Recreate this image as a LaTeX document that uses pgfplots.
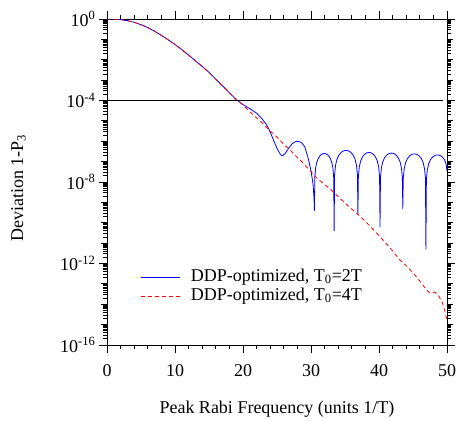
\documentclass[border=0pt]{standalone}
\usepackage{fontspec}
\setmainfont{Liberation Serif}
\usepackage{pgfplots}
\pgfplotsset{compat=1.18}
\definecolor{ddpblue}{RGB}{0,0,255}
\definecolor{ddpred}{RGB}{255,0,0}

% minor log ticks 2..9 in every decade
\def\yminor{}
\pgfplotsforeachungrouped \e in {-16,...,-1}{%
  \pgfplotsforeachungrouped \m in {2,...,9}{%
    \edef\yminor{\yminor\m e\e,}}}
\edef\yminor{\yminor 1}

\begin{document}
\begin{tikzpicture}[font=\fontsize{18}{21}\selectfont]
\begin{axis}[
  scale only axis,
  width=340pt, height=326pt,
  xmin=0, xmax=50,
  ymode=log, ymin=1e-16, ymax=1,
  axis line style={line width=0.8pt},
  every tick/.style={black, line width=0.8pt},
  tick align=outside,
  major tick length=8pt, minor tick length=4pt,
  xtick={0,10,...,50}, minor x tick num=4,
  xticklabel style={yshift=-8pt},
  ytick={1e-16,1e-12,1e-8,1e-4,1},
  yticklabels={10\textsuperscript{-16},10\textsuperscript{-12},10\textsuperscript{-8},10\textsuperscript{-4},10\textsuperscript{0}},
  minor ytick/.expanded={\yminor},
  extra y ticks={1e-15,1e-14,1e-13,1e-11,1e-10,1e-9,1e-7,1e-6,1e-5,1e-3,1e-2,1e-1},
  extra y tick labels={},
  extra y tick style={major tick length=6pt},
  /pgf/number format/assume math mode=true,
  xlabel={Peak Rabi Frequency (units 1/T)},
  ylabel={Deviation 1-P\textsubscript{3}},
  xlabel style={at={(axis description cs:0.5,-0.2086)}, anchor=base},
  ylabel style={at={(axis description cs:-0.247,0.482)}, anchor=base},
  legend style={draw=none, fill=none, inner sep=0pt,
    at={(axis description cs:0.097,0.236)}, anchor=north west,
    nodes={inner sep=0pt, text height=13pt, text depth=6pt},
    /tikz/every odd column/.append style={column sep=11pt}},
  legend cell align=left,
  legend image code/.code={\draw[#1] (0pt,0pt) -- (39pt,0pt);},
  line join=round,
]
\coordinate (sw) at (rel axis cs:0,0);
\coordinate (ne) at (rel axis cs:1,1);

\addplot[color=ddpblue, line width=0.8pt] coordinates {
(0,1) (1,0.989) (2,0.933) (3,0.832) (4,0.692) (5,0.525) (6,0.380) (7,0.251)
(8,0.158) (9,0.0955) (10,0.0562) (11,0.0316) (12,0.0170) (13,8.91e-3)
(14,4.68e-3) (15,2.40e-3) (16,1.12e-3) (17,5.25e-4) (18,2.40e-4) (19,1.12e-4)
(20,6.31e-5) (21,3.98e-5) (22,2.40e-5) (22.75,1.32e-5) (23.5,6.31e-6)
(24,2.82e-6) (24.5,1.12e-6) (25,4.47e-7) (25.5,2.24e-7) (25.8,1.91e-7)
(26.2,2.51e-7) (26.7,4.47e-7) (27.2,7.41e-7) (27.7,9.55e-7) (28.1,1.00e-6)
(28.6,8.71e-7) (29.1,5.25e-7) (29.6,1.41e-7) (30.0,3.55e-8) (30.3,7.94e-9)
(30.45,1.58e-9) (30.5,3.98e-10)
(30.558,1.58e-8) (30.674,4.68e-8) (30.848,9.33e-8) (31.08,1.48e-7) (31.37,2.04e-7)
(31.66,2.40e-7) (31.95,2.51e-7) (32.24,2.40e-7) (32.53,2.04e-7) (32.82,1.48e-7)
(33.052,9.33e-8) (33.226,4.68e-8) (33.342,1.58e-8) (33.4,3.98e-11)
(33.47,2.24e-8) (33.61,6.61e-8) (33.82,1.32e-7) (34.10,2.09e-7) (34.45,2.88e-7)
(34.80,3.39e-7) (35.15,3.55e-7) (35.50,3.39e-7) (35.85,2.88e-7) (36.20,2.09e-7)
(36.48,1.32e-7) (36.69,6.61e-8) (36.83,2.24e-8) (36.9,2.51e-10)
(36.965,1.78e-8) (37.095,5.25e-8) (37.29,1.05e-7) (37.55,1.66e-7) (37.875,2.29e-7)
(38.2,2.69e-7) (38.525,2.82e-7) (38.85,2.69e-7) (39.175,2.29e-7) (39.5,1.66e-7)
(39.76,1.05e-7) (39.955,5.25e-8) (40.085,1.78e-8) (40.15,6.31e-11)
(40.217,1.66e-8) (40.351,4.90e-8) (40.552,9.77e-8) (40.82,1.55e-7) (41.155,2.14e-7)
(41.49,2.51e-7) (41.825,2.63e-7) (42.16,2.51e-7) (42.495,2.14e-7) (42.83,1.55e-7)
(43.098,9.77e-8) (43.299,4.90e-8) (43.433,1.66e-8) (43.5,5.01e-10)
(43.568,1.51e-8) (43.704,4.47e-8) (43.908,8.91e-8) (44.18,1.41e-7) (44.52,1.95e-7)
(44.86,2.29e-7) (45.2,2.40e-7) (45.54,2.29e-7) (45.88,1.95e-7) (46.22,1.41e-7)
(46.492,8.91e-8) (46.696,4.47e-8) (46.832,1.51e-8) (46.9,5.01e-12)
(46.968,1.35e-8) (47.104,3.98e-8) (47.308,7.94e-8) (47.58,1.26e-7) (47.92,1.74e-7)
(48.26,2.04e-7) (48.6,2.14e-7) (48.94,2.04e-7) (49.28,1.74e-7) (49.62,1.26e-7)
(49.85,7.94e-8) (50,3.55e-8)
};
\addlegendentry{DDP-optimized, T\textsubscript{0}=2T}

\addplot[color=ddpred, line width=0.8pt, dash pattern=on 4pt off 3pt] coordinates {
(0,1) (1,0.989) (2,0.933) (3,0.832) (4,0.692) (5,0.525) (6,0.380) (7,0.251)
(8,0.158) (9,0.0955) (10,0.0562) (11,0.0316) (12,0.0170) (13,8.91e-3)
(14,4.68e-3) (15,2.40e-3) (16,1.12e-3) (17,5.25e-4) (18,2.40e-4) (19,1.12e-4)
(20,6.03e-5) (21,2.82e-5) (22,1.41e-5) (23,7.08e-6) (24,3.16e-6) (25,1.58e-6)
(26,7.08e-7) (27,3.55e-7) (28,1.58e-7) (29,7.59e-8) (30,3.16e-8) (31,1.41e-8)
(32,7.59e-9) (33,3.98e-9) (34,1.91e-9) (35,9.33e-10) (36,4.68e-10) (37,2.40e-10)
(38,1.17e-10) (39,5.25e-11) (40,2.34e-11) (41,1.0e-11) (42,4.17e-12) (43,1.58e-12)
(44,7.94e-13) (45,3.55e-13) (46,1.41e-13) (47,5.01e-14) (47.5,3.55e-14)
(48.2,3.98e-14) (48.8,2.51e-14) (49.3,1.26e-14) (49.7,4.47e-15) (50,1.58e-15)
};
\addlegendentry{DDP-optimized, T\textsubscript{0}=4T}

\addplot[black, line width=0.8pt, forget plot] coordinates {(0,1e-4) (49.35,1e-4)};
\end{axis}
\pgfresetboundingbox
\path ([shift={(-107pt,-75pt)}]sw) rectangle ([shift={(9pt,19pt)}]ne);
\end{tikzpicture}
\end{document}
